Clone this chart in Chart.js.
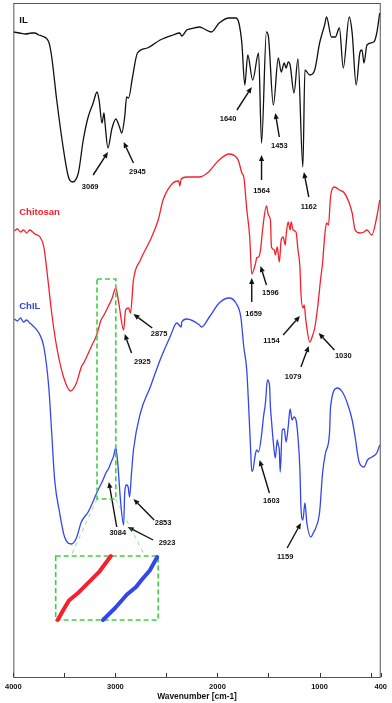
<!DOCTYPE html>
<html lang="en">
<head>
<meta charset="UTF-8">
<title>FTIR spectra - IL, Chitosan, ChIL</title>
<script src="https://cdn.jsdelivr.net/npm/chart.js"></script>
<style>
  html, body { margin: 0; padding: 0; background: #fff; }
  #wrap { width: 392px; height: 703px; }
</style>
</head>
<body>
<div id="wrap"><canvas id="ftir"></canvas></div>
<script>
// [wavenumber cm-1, transmittance a.u.] - the three spectra are stacked with offsets
const IL = [
  [4000,645],[3940,644],[3880,643],[3820,644],[3790,644],[3750,642],[3720,641],[3653,635],[3624,620],
  [3575,577],[3508,527],[3460,500],[3421,495],[3363,504],[3315,537],[3267,560],[3218,574],[3180,585],
  [3160,577],[3131,554],[3112,564],[3102,554],[3073,529],[3035,548],[2996,558],[2960,550],[2938,544],
  [2909,560],[2890,580],[2871,579],[2832,600],[2784,624],[2687,629],[2562,637],[2437,642],[2369,644],
  [2350,641],[2301,647],[2272,648],[2176,650],[2147,649],[2060,645],[1983,654],[1886,659],[1819,659],
  [1790,654],[1761,634],[1732,592],[1703,622],[1655,597],[1597,624],[1568,534],[1520,645],[1500,640],
  [1452,572],[1404,619],[1375,605],[1346,614],[1327,609],[1307,615],[1288,612],[1250,584],[1211,618],
  [1163,510],[1143,607],[1095,602],[1047,607],[999,634],[950,652],[931,660],[883,640],[845,640],
  [805,649],[767,609],[709,660],[680,644],[641,592],[603,625],[584,627],[564,614],[535,632],[468,635],
  [439,644],[410,664]
];
const CHITOSAN = [
  [3990,446],[3960,448],[3930,445],[3900,447],[3870,444],[3840,447],[3810,445],[3788,443],[3739,440],
  [3701,430],[3672,407],[3624,364],[3575,330],[3508,300],[3440,286],[3382,294],[3334,310],[3305,315],
  [3238,330],[3180,343],[3161,350],[3141,357],[3112,362],[3073,370],[3035,378],[2996,389],[2967,374],
  [2919,347],[2900,367],[2871,369],[2852,364],[2823,397],[2755,417],[2658,437],[2581,457],[2533,477],
  [2437,494],[2380,496],[2369,491],[2355,498],[2301,500],[2176,500],[2099,504],[1983,517],[1886,523],
  [1809,519],[1790,515],[1761,504],[1742,500],[1713,468],[1684,440],[1664,403],[1626,414],[1616,419],
  [1597,420],[1578,427],[1558,447],[1520,471],[1501,462],[1481,457],[1471,430],[1443,427],[1433,422],
  [1414,430],[1394,415],[1375,437],[1356,440],[1336,432],[1327,442],[1307,455],[1288,447],[1278,455],
  [1259,447],[1230,445],[1211,427],[1192,410],[1182,384],[1163,369],[1150,372],[1134,357],[1095,335],
  [1066,342],[1047,349],[1018,370],[989,398],[970,414],[950,440],[931,454],[912,452],[892,480],
  [854,490],[805,487],[757,484],[709,474],[680,464],[651,447],[603,444],[564,445],[535,447],[487,442],
  [439,460],[410,477]
];
const CHIL = [
  [3990,358],[3960,356],[3930,359],[3900,355],[3870,357],[3840,354],[3817,352],[3749,344],[3701,330],
  [3653,290],[3624,244],[3595,197],[3546,164],[3498,140],[3431,133],[3382,139],[3334,155],[3267,165],
  [3170,187],[3131,195],[3093,204],[3064,209],[3045,214],[3020,220],[2996,229],[2977,214],[2948,174],
  [2919,152],[2909,184],[2890,192],[2875,190],[2861,180],[2842,204],[2823,227],[2755,264],[2658,290],
  [2562,317],[2465,340],[2398,354],[2355,350],[2350,355],[2301,358],[2176,352],[2157,350],[2079,360],
  [1983,374],[1886,379],[1819,374],[1771,360],[1742,330],[1713,307],[1693,268],[1674,225],[1664,206],
  [1655,206],[1636,218],[1626,224],[1616,227],[1597,225],[1568,242],[1549,260],[1530,274],[1510,297],
  [1490,292],[1481,270],[1471,257],[1452,234],[1433,219],[1414,237],[1404,232],[1394,227],[1385,205],
  [1365,247],[1346,248],[1327,235],[1307,250],[1288,268],[1269,257],[1250,260],[1230,257],[1211,240],
  [1192,207],[1182,170],[1163,157],[1143,174],[1124,154],[1085,140],[1056,145],[1037,149],[999,165],
  [970,204],[941,224],[902,244],[892,270],[825,289],[776,285],[728,274],[680,257],[651,240],[612,215],
  [564,210],[530,217],[487,220],[439,224],[410,232]
];
const SERIES_NAMES = ['IL', 'Chitosan', 'ChIL'];
const X_TICKS = [4000, 3500, 3000, 2500, 2000, 1500, 1000, 500, 400];
const X_LABELED = [4000, 3000, 2000, 1000, 400];
const ZOOM_RANGE = [3180, 2996];   // wavenumbers shown magnified in the inset

const COLORS = ['#111111', '#f5202c', '#3346ee'];
const GREEN = '#3fcf3f';
const FONT = "'Liberation Sans', Arial, sans-serif";

// peak notes: text, arrow tip, arrow tail, label centre (all [wn, T])
const NOTES = [
  ['3069', [3073,525], [3218,502], [3247,490]],
  ['2945', [2919,535], [2823,514], [2784,505]],
  ['1640', [1664,590], [1809,567], [1896,558]],
  ['1564', [1568,522], [1568,497], [1568,486]],
  ['1453', [1433,564], [1394,540], [1394,531]],
  ['1162', [1153,505], [1105,480], [1105,470]],
  ['2925', [2909,343], [2842,324], [2736,315]],
  ['2875', [2823,363], [2639,349], [2572,343]],
  ['1659', [1664,399], [1664,375], [1645,363]],
  ['1596', [1578,411], [1520,392], [1481,384]],
  ['1154', [1192,361], [1356,342], [1471,336]],
  ['1079', [1105,331], [1182,310], [1259,300]],
  ['1030', [1008,344], [854,327], [767,321]],
  ['3084', [3064,195], [2987,150], [2977,144]],
  ['2923', [2880,150], [2630,137], [2494,134]],
  ['2853', [2823,178], [2620,157], [2533,154]],
  ['1603', [1587,217], [1491,184], [1471,176]],
  ['1159', [1182,154], [1317,129], [1336,120]]
];
const NAME_POS = [[3942,657], [3942,465], [3942,371]];

// inset layout (data units)
const INSET = {
  small: { wn: ZOOM_RANGE, t: [178, 398] },
  big: { wn: [3585, 2581], t: [57, 121] },
  fan: [[3431, 122], [2717, 122]],
  panels: [null, { wn: [3566, 3044], t: [57, 121] }, { wn: [3122, 2590], t: [57, 120] }]
};

function drawArrow(ctx, x0, y0, x1, y1) {
  const a = Math.atan2(y1 - y0, x1 - x0);
  const hl = 6, hw = 2.6;
  const bx = x1 - hl * Math.cos(a), by = y1 - hl * Math.sin(a);
  ctx.beginPath();
  ctx.moveTo(x0, y0);
  ctx.lineTo(bx, by);
  ctx.stroke();
  ctx.beginPath();
  ctx.moveTo(x1, y1);
  ctx.lineTo(bx + hw * Math.sin(a), by - hw * Math.cos(a));
  ctx.lineTo(bx - hw * Math.sin(a), by + hw * Math.cos(a));
  ctx.closePath();
  ctx.fill();
}

const decorations = {
  id: 'decorations',
  afterDatasetsDraw(chart) {
    const ctx = chart.ctx;
    const xs = chart.scales.x, ys = chart.scales.y;
    const px = wn => xs.getPixelForValue(wn);
    const py = t => ys.getPixelForValue(t);
    const area = chart.chartArea;
    ctx.save();

    // frame + inward ticks
    ctx.strokeStyle = '#555';
    ctx.lineWidth = 1;
    ctx.strokeRect(area.left + 0.5, area.top + 0.5, area.right - area.left - 1, area.bottom - area.top);
    ctx.strokeStyle = '#333';
    ctx.beginPath();
    X_TICKS.forEach(v => {
      const x = Math.round(px(v)) + 0.5;
      ctx.moveTo(x, area.bottom);
      ctx.lineTo(x, area.bottom - 4);
    });
    ctx.stroke();

    // series names
    ctx.font = 'bold 9.5px ' + FONT;
    ctx.textBaseline = 'middle';
    ctx.textAlign = 'left';
    SERIES_NAMES.forEach((n, i) => {
      ctx.fillStyle = COLORS[i];
      ctx.fillText(n, px(NAME_POS[i][0]), py(NAME_POS[i][1]));
    });

    // peak notes
    ctx.strokeStyle = '#111';
    ctx.fillStyle = '#111';
    ctx.lineWidth = 1.4;
    ctx.font = 'bold 7.5px ' + FONT;
    ctx.textAlign = 'center';
    NOTES.forEach(([txt, tip, tail, lab]) => {
      drawArrow(ctx, px(tail[0]), py(tail[1]), px(tip[0]), py(tip[1]));
      ctx.fillText(txt, px(lab[0]), py(lab[1]));
    });

    // inset: dashed zoom window, fan lines, magnified box
    ctx.strokeStyle = GREEN;
    ctx.lineWidth = 1.6;
    ctx.setLineDash([5, 3]);
    const s = INSET.small, b = INSET.big;
    ctx.strokeRect(px(s.wn[0]), py(s.t[1]), px(s.wn[1]) - px(s.wn[0]), py(s.t[0]) - py(s.t[1]));
    ctx.strokeRect(px(b.wn[0]), py(b.t[1]), px(b.wn[1]) - px(b.wn[0]), py(b.t[0]) - py(b.t[1]));
    ctx.lineWidth = 1;
    ctx.strokeStyle = 'rgba(63,207,63,0.6)';
    ctx.setLineDash([4, 4]);
    ctx.beginPath();
    ctx.moveTo(px(s.wn[0]), py(s.t[0]));
    ctx.lineTo(px(INSET.fan[0][0]), py(INSET.fan[0][1]));
    ctx.moveTo(px(s.wn[1]), py(s.t[0]));
    ctx.lineTo(px(INSET.fan[1][0]), py(INSET.fan[1][1]));
    ctx.stroke();
    ctx.setLineDash([]);

    // magnified segments, each stretched over its own panel
    [CHITOSAN, CHIL].forEach((series, k) => {
      const panel = INSET.panels[k + 1];
      const seg = series.filter(p => p[0] <= ZOOM_RANGE[0] && p[0] >= ZOOM_RANGE[1]);
      const wHi = seg[0][0], wLo = seg[seg.length - 1][0];
      const tMin = Math.min(...seg.map(p => p[1])), tMax = Math.max(...seg.map(p => p[1]));
      const x0 = px(panel.wn[0]), x1 = px(panel.wn[1]);
      const y0 = py(panel.t[0]), y1 = py(panel.t[1]);
      ctx.strokeStyle = COLORS[k + 1];
      ctx.lineWidth = 4;
      ctx.lineCap = 'round';
      ctx.lineJoin = 'round';
      ctx.beginPath();
      seg.forEach((p, i) => {
        const fx = (wHi - p[0]) / (wHi - wLo);
        const fy = (p[1] - tMin) / (tMax - tMin);
        const x = x0 + fx * (x1 - x0), y = y0 + fy * (y1 - y0);
        if (i === 0) ctx.moveTo(x, y); else ctx.lineTo(x, y);
      });
      ctx.stroke();
    });
    ctx.restore();
  }
};

const toXY = arr => arr.map(p => ({ x: p[0], y: p[1] }));

new Chart(document.getElementById('ftir'), {
  type: 'line',
  data: {
    datasets: [IL, CHITOSAN, CHIL].map((d, i) => ({
      label: SERIES_NAMES[i],
      data: toXY(d),
      borderColor: COLORS[i],
      borderWidth: 1.3,
      pointRadius: 0,
      cubicInterpolationMode: 'monotone',
      fill: false
    }))
  },
  options: {
    responsive: true,
    maintainAspectRatio: false,
    animation: false,
    events: [],
    layout: { padding: { left: 11, right: 8, top: 3, bottom: 0 } },
    plugins: { legend: { display: false }, tooltip: { enabled: false } },
    scales: {
      x: {
        type: 'linear',
        min: 400,
        max: 4000,
        reverse: true,
        grid: { display: false, drawTicks: false },
        border: { display: false },
        afterBuildTicks: scale => { scale.ticks = X_TICKS.map(v => ({ value: v })); },
        afterFit: scale => { scale.height = 26; },
        ticks: {
          autoSkip: false,
          maxRotation: 0,
          padding: 5,
          color: '#111',
          font: { family: FONT, size: 7.5, weight: 'bold' },
          callback: v => X_LABELED.includes(v) ? String(v) : ''
        },
        title: {
          display: true,
          text: 'Wavenumber [cm-1]',
          color: '#111',
          padding: { top: 0, bottom: 1 },
          font: { family: FONT, size: 8.4, weight: 'bold' }
        }
      },
      y: { display: false, min: 0, max: 674 }
    }
  },
  plugins: [decorations]
});
</script>
</body>
</html>
